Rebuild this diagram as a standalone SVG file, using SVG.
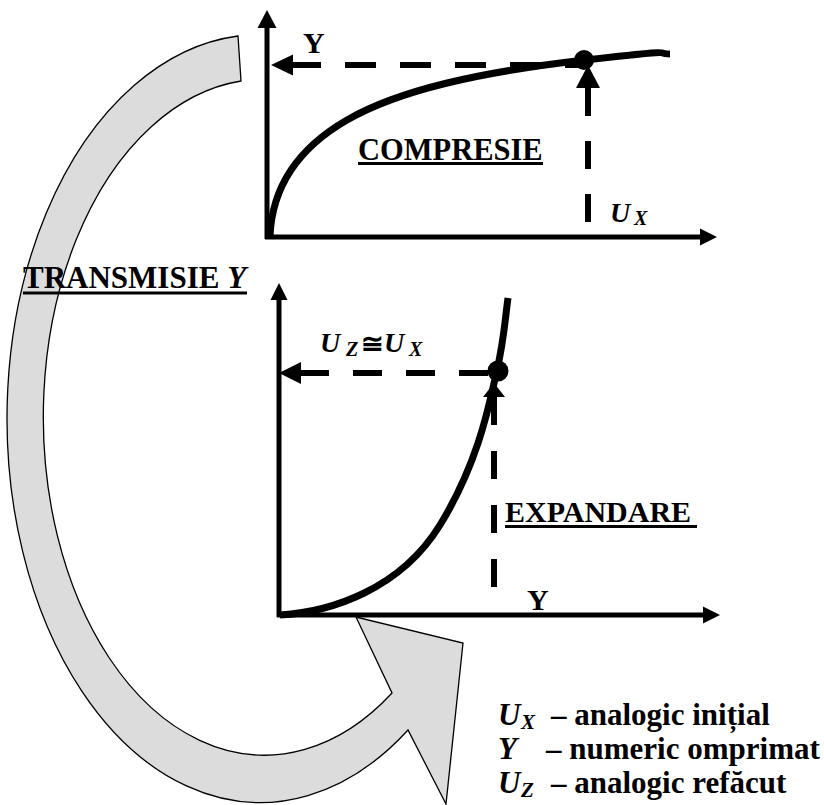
<svg xmlns="http://www.w3.org/2000/svg" width="824" height="805" viewBox="0 0 824 805">
<style>
.t{font-family:"Liberation Serif","Times New Roman","DejaVu Serif",serif;font-weight:bold;fill:#000}
.i{font-style:italic}
.ax{stroke:#000;stroke-width:5;fill:none}
.cv{stroke:#000;stroke-width:7;fill:none;stroke-linecap:butt}
.ds{stroke:#000;stroke-width:6;fill:none}
.hd{fill:#000}
.ul{stroke:#000;stroke-width:3}
</style>
<rect width="824" height="805" fill="#fff"/>
<g id="transmit-arrow">
<path d="M238,36 A253 384 0 1 0 408,730 L446,804 L463,643 L356,617 L392,693 A221 338 0 1 1 241,81 Z" fill="#dcdcdc" stroke="#000" stroke-width="1.3" stroke-linejoin="miter"/>
</g>
<g id="compresie-graph">
<line class="ax" x1="267" y1="239" x2="267" y2="25"/>
<polygon class="hd" points="267,10 257.5,28 276.5,28"/>
<line class="ax" x1="265" y1="237" x2="702" y2="237"/>
<polygon class="hd" points="717,237 700,228.5 700,245.5"/>
<path class="cv" d="M270,236 C272,190 295,150 347,120 S480,72 585,60 S650,54 670,54"/>
<circle cx="584" cy="60" r="10" fill="#000"/>
</g>
<g id="expandare-graph">
<line class="ax" x1="279" y1="617" x2="279" y2="298"/>
<polygon class="hd" points="279,283 270.5,300 287.5,300"/>
<line class="ax" x1="277" y1="615" x2="705" y2="615"/>
<polygon class="hd" points="720,615 703,606.5 703,623.5"/>
<path class="cv" d="M280,615 C330,612 400,590 440,525 S490,400 497,370 S505,320 508,298"/>
<circle cx="498" cy="371" r="10.5" fill="#000"/>
</g>
<g id="connectors">
<line class="ds" x1="290" y1="65" x2="585" y2="65" stroke-dasharray="31 24"/>
<polygon class="hd" points="271,65 293,54.5 293,75.5"/>
<line class="ds" x1="588" y1="88" x2="588" y2="223" stroke-dasharray="28 25"/>
<polygon class="hd" points="588,65 576,88 600,88"/>
<line class="ds" x1="300" y1="373" x2="492" y2="373" stroke-dasharray="29 24"/>
<polygon class="hd" points="279,373 301,362 301,384"/>
<line class="ds" x1="494" y1="397" x2="494" y2="616" stroke-dasharray="28 26"/>
<polygon class="hd" points="494,383 483,397 505,397"/>
</g>
<g id="labels">
<text class="t" x="303" y="53" font-size="30">Y</text>
<text class="t" x="358" y="160" font-size="30.5">COMPRESIE</text>
<line class="ul" x1="358" y1="163.5" x2="543" y2="163.5" stroke-width="2.5"/>
<text class="t i" x="610" y="222" font-size="28">U</text>
<text class="t i" x="634" y="225" font-size="20">X</text>
<text class="t" x="23" y="288" font-size="31">TRANSMISIE <tspan class="i">Y</tspan></text>
<line class="ul" x1="23" y1="293" x2="247" y2="293"/>
<text class="t i" x="320" y="352" font-size="28">U</text>
<text class="t i" x="346" y="356" font-size="20">Z</text>
<text class="t" x="361" y="353" font-size="27">≅</text>
<text class="t i" x="384" y="352" font-size="28">U</text>
<text class="t i" x="409" y="356" font-size="20">X</text>
<text class="t" x="505" y="522" font-size="30">EXPANDARE</text>
<line class="ul" x1="505" y1="526.5" x2="697" y2="526.5"/>
<text class="t" x="527" y="610" font-size="30">Y</text>
</g>
<g id="legend">
<text class="t i" x="498" y="725" font-size="31">U</text>
<text class="t i" x="521" y="729" font-size="21">X</text>
<text class="t" x="551" y="725" font-size="31">– analogic inițial</text>
<text class="t i" x="498" y="759" font-size="31">Y</text>
<text class="t" x="546" y="759" font-size="31">– numeric omprimat</text>
<text class="t i" x="498" y="793" font-size="31">U</text>
<text class="t i" x="521" y="797" font-size="21">Z</text>
<text class="t" x="551" y="793" font-size="31">– analogic refăcut</text>
</g>
</svg>
